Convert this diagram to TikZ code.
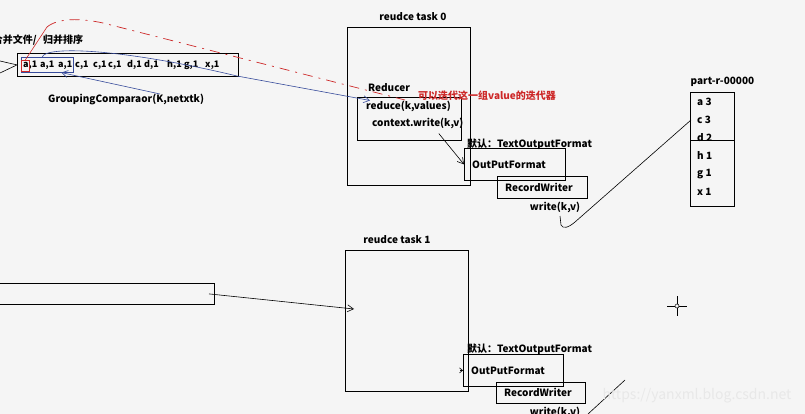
\documentclass[tikz,border=0pt]{standalone}
\usepackage{fontspec}
\setmainfont{Noto Sans CJK SC}
\usepackage{tikz}
\usetikzlibrary{arrows.meta, calc, positioning}

\definecolor{fond}{RGB}{245,245,245}
\definecolor{bleu}{RGB}{55,75,155}
\definecolor{rouge}{RGB}{205,40,40}

\begin{document}
\begin{tikzpicture}[x=1pt, y=-1pt,
    boite/.style={draw, line width=0.8pt, inner sep=0pt},
    txt/.style={font=\fontsize{10}{12}\selectfont\bfseries, inner sep=0pt},
    ptxt/.style={font=\fontsize{9}{11}\selectfont\bfseries, inner sep=0pt},
    rtxt/.style={txt, text=rouge},
    fl/.style={-{Straight Barb[length=6pt, width=7pt]}, line width=0.6pt},
    bfl/.style={fl, draw=bleu},
    tiret/.style={draw=rouge, line width=0.7pt, dash pattern=on 10pt off 6pt on 2pt off 6pt}]

    % Fond
    \fill[fond] (0,0) rectangle (805,414);
    \clip (0,0) rectangle (805,414);

    % Fichier fusionne / tri
    \node[txt, anchor=east] (fus) at (37,40) {合并文件/};
    \node[txt, anchor=west] (tri) at (43,40) {归并排序};
    \node[boite, minimum width=221pt, minimum height=23pt, anchor=north west] (seq) at (17,53) {};
    \foreach \x/\c [count=\i] in {23/a, 40/a, 58/a, 75/c, 93/c, 108/c, 127/d, 144/d, 167/h, 184/g, 205/x} {
        \node[ptxt, anchor=west] (s\i) at (\x,65) {\c,1};
    }
    \coordinate (g1) at (0,61);
    \coordinate (g2) at (0,73);
    \draw[line width=0.6pt] (g1) -- (seq.west) -- (g2);

    % Groupe (bleu) et premier element (rouge)
    \node[draw=bleu, line width=0.6pt, minimum width=52pt, minimum height=15pt, anchor=north west] (grp) at (21,57) {};
    \node[draw=rouge, line width=0.6pt, minimum width=8pt, minimum height=11pt, anchor=north west] (pre) at (21,60) {};
    \node[txt, anchor=west] (gc) at (48,99) {GroupingComparaor(K,netxtk)};
    \coordinate (gk) at (160,94);
    \draw[bfl] (gk) -- ([xshift=14pt]grp.south);

    % Reduce task 0
    \node[boite, minimum width=123pt, minimum height=158pt, anchor=north west] (t0) at (347,27) {};
    \node[txt, above=6pt of t0.north, xshift=4pt] (t0t) {reudce task 0};
    \node[boite, minimum width=104pt, minimum height=43pt, anchor=north west] (red0) at (357,97) {};
    \node[txt, anchor=west] (rl0) at (368,88) {Reducer};
    \node[txt, anchor=west] (rv0) at (366,106) {reduce(k,values)};
    \node[txt, anchor=west] (cw0) at (372,123) {context.write(k,v)};
    \node[rtxt, anchor=west] (note) at (418,96) {可以迭代这一组value的迭代器};

    \node[txt, anchor=west] (def0) at (467,144) {默认：TextOutputFormat};
    \node[boite, minimum width=101pt, minimum height=32pt, anchor=north west] (of0) at (464,148) {};
    \node[txt, right=8pt of of0.west] (of0t) {OutPutFormat};
    \node[boite, minimum width=90pt, minimum height=22pt, anchor=north west] (rw0) at (497,176) {};
    \node[txt, right=8pt of rw0.west] (rw0t) {RecordWriter};
    \node[txt] (wk0) at (555,207) {write(k,v)};
    \draw[fl] ($(cw0.south)+(21,5)$) -- (of0.west);

    % Fleches vers le reducer
    \coordinate (rdeb) at (47,27);
    \coordinate (rfin) at (405,100);
    \draw[rouge, line width=0.6pt] (pre.north) -- (rdeb);
    \draw[tiret] (rdeb) .. controls (58,18) and (80,18) .. (103,23) -- (rfin);
    \draw[bfl] ([xshift=-5pt]grp.north) .. controls (45,46) and (120,48) .. (237,76) -- ([xshift=4pt]rv0.north west);

    % Fichier de sortie
    \node[boite, minimum width=44pt, minimum height=114pt, anchor=north west] (part) at (690,92) {};
    \node[txt, above=5pt of part.north, xshift=10pt] (partt) {part-r-00000};
    \foreach \y/\k/\v [count=\i] in {102/a/3, 120/c/3, 138/d/2, 156/h/1, 174/g/1, 192/x/1} {
        \node[txt, anchor=west] (p\i) at (697,\y) {\k\ \v};
    }
    \draw[line width=0.8pt] ([yshift=-48pt]part.north west) -- ([yshift=-48pt]part.north east);
    \coordinate (wb0) at (560,216);
    \draw[line width=0.6pt] (wb0) -- (561,225) .. controls (563,229) and (568,228) .. (575,222) -- ([xshift=-6pt]p2.west);

    % Reduce task 1
    \node[boite, minimum width=230pt, minimum height=21pt, anchor=north east] (seq1) at (215,283) {};
    \node[boite, minimum width=123pt, minimum height=141pt, anchor=north west] (t1) at (345,250) {};
    \node[txt, above=6pt of t1.north, xshift=-10pt] (t1t) {reudce task 1};
    \draw[fl] ([xshift=-6pt]seq1.east) -- ($(t1.north west)+(9,59)$);

    \node[txt, anchor=west] (def1) at (467,349) {默认：TextOutputFormat};
    \node[boite, minimum width=100pt, minimum height=32pt, anchor=north west] (of1) at (463,354) {};
    \node[txt, right=8pt of of1.west] (of1t) {OutPutFormat};
    \node[boite, minimum width=89pt, minimum height=21pt, anchor=north west] (rw1) at (496,382) {};
    \node[txt, right=8pt of rw1.west] (rw1t) {RecordWriter};
    \node[txt] (wk1) at (555,412) {write(k,v)};
    \draw[fl, -{Straight Barb[length=3pt, width=5pt]}] ([xshift=-3pt]of1.west) -- (of1.west);
    \coordinate (wb1) at (588,414);
    \coordinate (wh1) at (625,380);
    \draw[line width=0.6pt] (wb1) -- (wh1);

    % Curseur
    \draw[line width=0.7pt] (677,296) -- (677,316) (667,306) -- (687,306);
    \draw[line width=0.5pt, fill=fond] (677,306) circle (2);

    % Filigrane
    \node[font=\fontsize{14}{16}\selectfont, text=black!9, inner sep=0pt] (wm) at (697,396) {https://yanxml.blog.csdn.net};

\end{tikzpicture}
\end{document}
